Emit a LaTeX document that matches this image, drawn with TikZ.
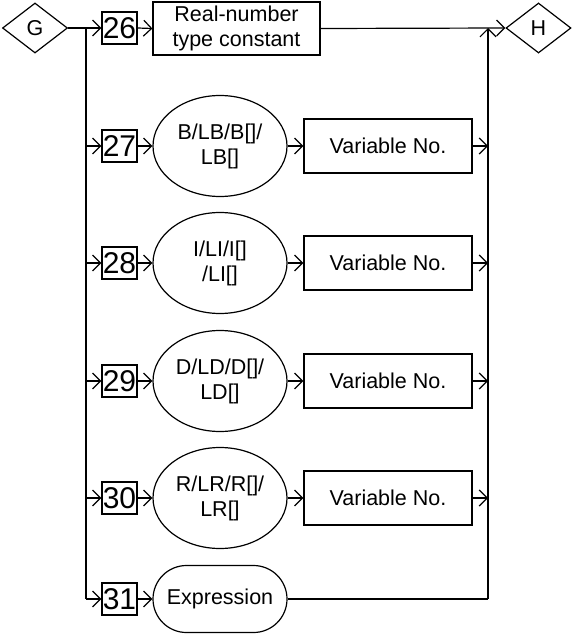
\documentclass[tikz,border=0pt]{standalone}
\usepackage{fontspec}
\setmainfont{Liberation Sans}
\usetikzlibrary{shapes.geometric,shapes.misc,arrows.meta}
\tikzset{
  base/.style={draw, line width=1.2pt, inner sep=0pt, align=center, font=\fontsize{21.5}{25}\selectfont},
  dia/.style={base, shape=diamond, aspect=1.3, minimum width=65pt, minimum height=50pt},
  numbox/.style={base, rectangle, minimum width=35pt, minimum height=32pt, font=\fontsize{30}{30}\selectfont},
  recbox/.style={base, rectangle, minimum width=167pt, minimum height=53pt},
  varbox/.style={base, rectangle, minimum width=168pt, minimum height=54pt},
  ell/.style={base, ellipse, minimum width=134pt, minimum height=101pt},
  stad/.style={base, rounded rectangle, minimum width=134pt, minimum height=67pt},
  ln/.style={line width=1.2pt},
  arr/.style={ln, -{Straight Barb[length=8pt,width=16pt,line width=1.2pt]}},
}
\begin{document}
\begin{tikzpicture}[x=1pt,y=-1pt]
\useasboundingbox (0,0) rectangle (571,634);
% entry / exit
\node[dia] (G) at (35,28) {G};
\node[dia] (H) at (538.5,28) {H};
% row 26
\node[numbox] (n26) at (119.5,28) {26};
\node[recbox] (r26) at (236.5,28.5) {Real-number\\type constant};
% rows 27-30
\node[numbox] (n27) at (119.5,146) {27};
\node[ell] (e27) at (220,146) {B/LB/B[]/\\LB[]};
\node[varbox] (v27) at (388,146) {Variable No.};
\node[numbox] (n28) at (119.5,263) {28};
\node[ell] (e28) at (220,263) {I/LI/I[]\\/LI[]};
\node[varbox] (v28) at (388,263) {Variable No.};
\node[numbox] (n29) at (119.5,381) {29};
\node[ell] (e29) at (220,381) {D/LD/D[]/\\LD[]};
\node[varbox] (v29) at (388,381) {Variable No.};
\node[numbox] (n30) at (119.5,498) {30};
\node[ell] (e30) at (220,498) {R/LR/R[]/\\LR[]};
\node[varbox] (v30) at (388,498) {Variable No.};
% row 31
\node[numbox] (n31) at (119.5,599) {31};
\node[stad] (x31) at (220,599) {Expression};
% junction coordinates
\coordinate (L26) at (86,28);
\coordinate (L27) at (86,146);
\coordinate (L28) at (86,263);
\coordinate (L29) at (86,381);
\coordinate (L30) at (86,498);
\coordinate (L31) at (86,599);
\coordinate (R26) at (488,28);
\coordinate (R27) at (488,146);
\coordinate (R28) at (488,263);
\coordinate (R29) at (488,381);
\coordinate (R30) at (488,498);
\coordinate (R31) at (488,599);
% left trunk
\draw[arr] (G.east) -- (n26.west);
\draw[ln] (L26) -- (L31);
\draw[arr] (L27) -- (n27.west);
\draw[arr] (L28) -- (n28.west);
\draw[arr] (L29) -- (n29.west);
\draw[arr] (L30) -- (n30.west);
\draw[arr] (L31) -- (n31.west);
% row arrows
\draw[arr] (n26.east) -- (r26.west);
\draw[arr] (r26.east) -- (H.west);
\draw[arr] (n27.east) -- (e27.west);
\draw[arr] (e27.east) -- (v27.west);
\draw[arr] (v27.east) -- (R27);
\draw[arr] (n28.east) -- (e28.west);
\draw[arr] (e28.east) -- (v28.west);
\draw[arr] (v28.east) -- (R28);
\draw[arr] (n29.east) -- (e29.west);
\draw[arr] (e29.east) -- (v29.west);
\draw[arr] (v29.east) -- (R29);
\draw[arr] (n30.east) -- (e30.west);
\draw[arr] (e30.east) -- (v30.west);
\draw[arr] (v30.east) -- (R30);
\draw[arr] (n31.east) -- (x31.west);
\draw[ln] (x31.east) -- (R31);
% right trunk
\draw[arr] (R31) -- (R26);
\end{tikzpicture}
\end{document}
